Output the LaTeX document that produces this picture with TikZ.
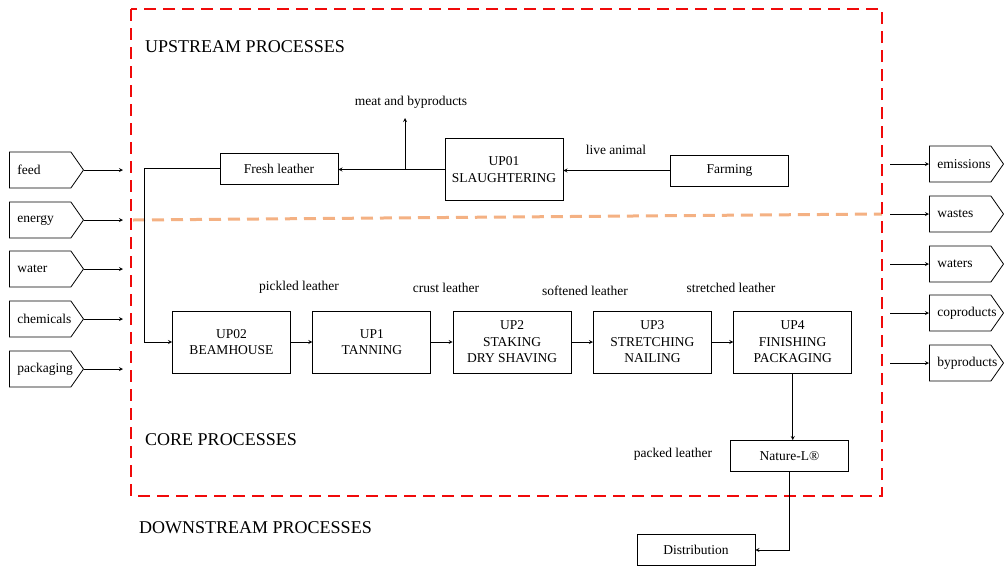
\documentclass[tikz,border=0pt]{standalone}
\usepackage{fontspec}
\setmainfont{Liberation Serif}
\usetikzlibrary{positioning}
\usetikzlibrary{shapes.symbols}
\definecolor{boundred}{RGB}{240,10,10}
\definecolor{cutorange}{RGB}{244,177,131}

\begin{document}
\begin{tikzpicture} [x=1pt, y=-1pt, thick, >=stealth,
        font=\fontsize{13.5}{16.5}\selectfont,
        proc/.style = {draw, rectangle, minimum width=118pt, minimum height=62pt, align=center, inner sep=2pt},
        flat/.style = {draw, rectangle, minimum width=118pt, minimum height=31pt},
        flow/.style = {draw, signal, signal to=east, signal pointer angle=110, minimum height=36pt, text width=45.5pt, align=left, inner xsep=8pt},
        heading/.style = {anchor=west, font=\fontsize{18}{20}\selectfont}]
        \useasboundingbox (0,0) rectangle (1005,566);

        %Grenzen
        \draw[cutorange, line width=3pt, dash pattern=on 12pt off 7pt] (133,220) -- (882,214);
        \draw[boundred, line width=2.8pt, dash pattern=on 12pt off 7pt] (131,9) rectangle (882,496);

        \node[heading] (upstream) at (141.5,47) {UPSTREAM PROCESSES};
        \node[heading] (core) at (141.5,440) {CORE PROCESSES};
        \node[heading] (downstream) at (135.5,528) {DOWNSTREAM PROCESSES};

        %Knoten
        \node[flow, anchor=west] (feed) at (9,170) {feed};
        \node[flow, anchor=west] (energy) at (9,220) {energy};
        \node[flow, anchor=west] (water) at (9,269) {water};
        \node[flow, anchor=west] (chem) at (9,319) {chemicals};
        \node[flow, anchor=west] (pack) at (9,369) {packaging};

        \node[flow, anchor=west] (emis) at (929,164) {emissions};
        \node[flow, anchor=west] (waste) at (929,214) {wastes};
        \node[flow, anchor=west] (waters) at (929,264) {waters};
        \node[flow, anchor=west] (coprod) at (929,313) {coproducts};
        \node[flow, anchor=west] (byprod) at (929,363) {byproducts};

        \node[flat] (fresh) at (279,168.5) {Fresh leather};
        \node[proc] (up01) at (504,169.5) {UP01\\SLAUGHTERING};
        \node[flat] (farm) at (729.5,170.5) {Farming};

        \node[proc] (up02) at (231.5,342) {UP02\\BEAMHOUSE};
        \node[proc] (up1) [right = 21.5pt of up02] {UP1\\TANNING};
        \node[proc] (up2) [right = 21.5pt of up1] {UP2\\STAKING\\DRY SHAVING};
        \node[proc] (up3) [right = 21.5pt of up2] {UP3\\STRETCHING\\NAILING};
        \node[proc] (up4) [right = 21.5pt of up3] {UP4\\FINISHING\\PACKAGING};

        \node[flat] (nature) at (789.5,456) {Nature-L\textregistered};
        \node[flat] (distrib) at (696,550) {Distribution};

        \node (meat) at (411,102) {meat and byproducts};
        \node (live) at (616,150) {live animal};
        \node (pickled) at (299,287) {pickled leather};
        \node (crust) at (446,288) {crust leather};
        \node (softened) at (585,291) {softened leather};
        \node (stretched) at (731,288) {stretched leather};
        \node (packed) at (673,454) {packed leather};

        \coordinate (meatend) at (405,118);
        \coordinate (meatfork) at (405,169.5);

        %Kanten
        \draw[->] (feed.east) -- ++(39,0);
        \draw[->] (energy.east) -- ++(39,0);
        \draw[->] (water.east) -- ++(39,0);
        \draw[->] (chem.east) -- ++(39,0);
        \draw[->] (pack.east) -- ++(39,0);

        \draw[<-] (emis.west) -- ++(-39,0);
        \draw[<-] (waste.west) -- ++(-39,0);
        \draw[<-] (waters.west) -- ++(-39,0);
        \draw[<-] (coprod.west) -- ++(-39,0);
        \draw[<-] (byprod.west) -- ++(-39,0);

        \draw[->] (farm.west) -- (up01.east |- farm.west);
        \draw[->] (up01.west) -- (fresh.east |- up01.west);
        \draw[->] (meatfork) -- (meatend);

        \draw[->] (fresh.west) -- ++(-75,0) |- (up02.west);

        \draw[->] (up02) -- (up1);
        \draw[->] (up1) -- (up2);
        \draw[->] (up2) -- (up3);
        \draw[->] (up3) -- (up4);

        \draw[->] (up4.south) -- (up4.south |- nature.north);
        \draw[->] (nature.south) |- (distrib.east);

    \end{tikzpicture}
\end{document}
